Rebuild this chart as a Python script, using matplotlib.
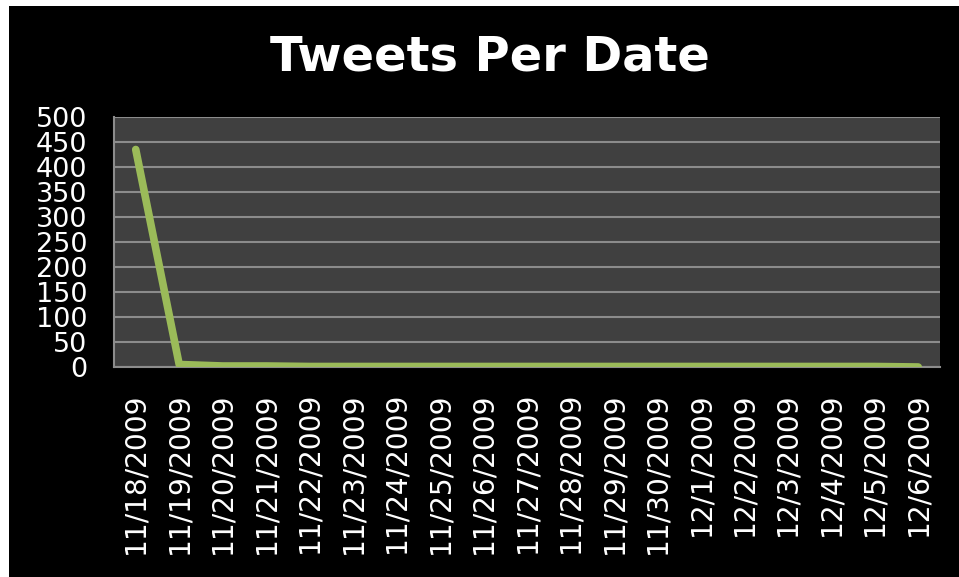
import matplotlib
matplotlib.use("Agg")
import matplotlib.pyplot as plt
from matplotlib.patches import Rectangle

dates = ["11/18/2009", "11/19/2009", "11/20/2009", "11/21/2009", "11/22/2009",
         "11/23/2009", "11/24/2009", "11/25/2009", "11/26/2009", "11/27/2009",
         "11/28/2009", "11/29/2009", "11/30/2009", "12/1/2009", "12/2/2009",
         "12/3/2009", "12/4/2009", "12/5/2009", "12/6/2009"]
tweets = [435, 5, 2, 2, 1, 1, 1, 1, 1, 1, 1, 1, 1, 1, 1, 1, 1, 1, 0]
yticks = [0, 50, 100, 150, 200, 250, 300, 350, 400, 450, 500]

W, H = 959, 577
fig = plt.figure(figsize=(W / 100, H / 100), dpi=100)
fig.patch.set_facecolor("black")
# thin white strips on the top and left edges
fig.patches.append(Rectangle((0, 1 - 6 / H), 1, 6 / H, transform=fig.transFigure,
                             facecolor="white", edgecolor="none", zorder=-10))
fig.patches.append(Rectangle((0, 0), 9 / W, 1, transform=fig.transFigure,
                             facecolor="white", edgecolor="none", zorder=-10))

ax = fig.add_axes([114 / W, 1 - 367 / H, (940 - 114) / W, (367 - 117) / H])
ax.set_facecolor("#404040")
x = list(range(len(dates)))
ax.plot(x, tweets, color="#9BBB59", lw=5.5, solid_capstyle="round",
        solid_joinstyle="round", zorder=3)
ax.set_xlim(-0.5, len(dates) - 0.5)
ax.set_ylim(0, 500)
ax.set_yticks(yticks)
ax.set_yticklabels([str(v) for v in yticks])
ax.set_xticks(x)
ax.set_xticklabels(dates, rotation=90)
ax.grid(axis="y", color="#8c8c8c", lw=1.5)
ax.set_axisbelow(True)
for s in ["top", "right"]:
    ax.spines[s].set_visible(False)
for s in ["left", "bottom"]:
    ax.spines[s].set_color("#8c8c8c")
    ax.spines[s].set_linewidth(1.5)
ax.tick_params(axis="both", colors="white", length=0)
ax.tick_params(axis="y", pad=19, labelsize=19.5)
ax.tick_params(axis="x", pad=18, labelsize=20.2)
for lab in ax.get_xticklabels() + ax.get_yticklabels():
    lab.set_color("white")

fig.text(490 / W, 1 - 57 / H, "Tweets Per Date", color="white", fontsize=34.5,
         fontweight="bold", ha="center", va="center")

fig.savefig("out.png", dpi=100, facecolor=fig.get_facecolor())
